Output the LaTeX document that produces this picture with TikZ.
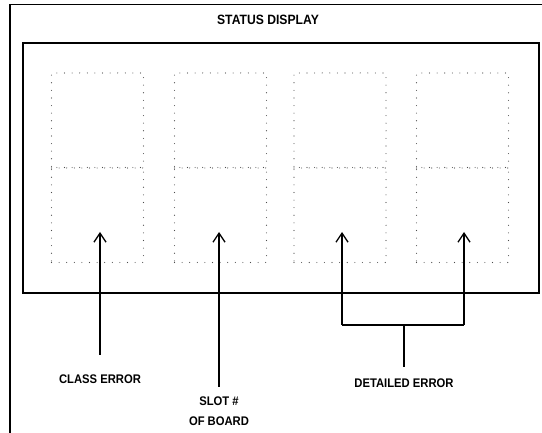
\documentclass[tikz,border=0pt]{standalone}
\usepackage{fontspec}
\setmainfont{Liberation Sans}
\newfontfamily\narrowbold[FakeStretch=0.9]{Liberation Sans Bold}
\usetikzlibrary{arrows.meta}
\begin{document}
\begin{tikzpicture}[x=1pt, y=-1pt,
  frame/.style={draw, line width=1.6pt},
  segbox/.style={draw=black!70, line width=1.1pt, line cap=round,
    dash pattern=on 0pt off 7.6pt, minimum width=92pt, minimum height=95pt,
    inner sep=0pt, outer sep=0pt},
  lbl/.style={inner sep=0pt, font=\narrowbold\fontsize{12.5}{20}\selectfont, align=center},
  arr/.style={line width=1.3pt, -{Straight Barb[length=9pt, width=12pt, line width=1.3pt]}},
  wire/.style={line width=1.3pt}]
\useasboundingbox (0,0) rectangle (542,433);
\begin{scope}
  \clip (0,0) rectangle (542,433);
  % outer cabinet outline, running off the page on the right and bottom
  \draw[frame] (10,4.5) rectangle (560,450);
\end{scope}
\node[font=\narrowbold\fontsize{13.5}{15}\selectfont, inner sep=0pt] (title) at (268,20) {STATUS DISPLAY};
% display panel
\draw[frame] (23,43) rectangle (539,293);
% four digits, each an upper and a lower segment cell
\foreach \i/\x in {1/97.5, 2/220.5, 3/340, 4/462.5} {
  \node[segbox] (d\i u) at (\x,120.5) {};
  \node[segbox] (d\i l) at (\x,215) {};
}
% arrow tips inside the lower cells
\coordinate (t1) at (100,232);
\coordinate (t2) at (219,232);
\coordinate (t3) at (342,232);
\coordinate (t4) at (464,232);
% labels
\node[lbl] (cls) at (100,379) {CLASS ERROR};
\node[lbl] (slot) at (219,411) {SLOT \#\\OF BOARD};
\node[lbl] (det) at (404,383) {DETAILED ERROR};
% tails of the connectors, just above the labels
\coordinate (s1) at (100,355);
\coordinate (s2) at (219,387);
\coordinate (s3) at (404,367);
% connectors
\draw[arr] (s1) -- (t1);
\draw[arr] (s2) -- (t2);
\coordinate (b3) at (342,325);
\coordinate (b4) at (464,325);
\coordinate (bm) at (404,325);
\draw[wire] (s3) -- (bm);
\draw[wire] (b3) -- (b4);
\draw[arr] (b3) -- (t3);
\draw[arr] (b4) -- (t4);
\end{tikzpicture}
\end{document}
